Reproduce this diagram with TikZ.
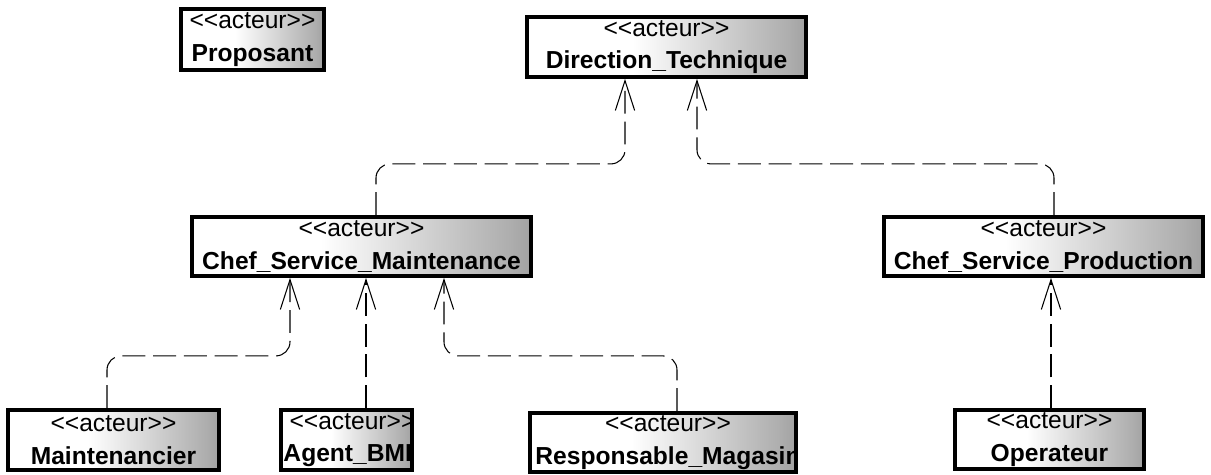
\documentclass[tikz,border=0pt]{standalone}
\usepackage{fontspec}
\newfontfamily\umlfont{Liberation Sans}
\usetikzlibrary{arrows.meta,calc}

\pgfdeclarehorizontalshading{acteurfill}{100bp}{color(0bp)=(white); color(44bp)=(white); color(72bp)=(black!32); color(100bp)=(black!75)}
\newcommand{\stereo}{\textless\textless acteur\textgreater\textgreater}

\tikzset{
  acteurtext/.style={align=center, inner sep=0pt, font=\umlfont\fontsize{14}{18.5}\selectfont},
  acteur/.style={acteurtext, draw, line width=2.2pt, shading=acteurfill},
  dep/.style={line width=0.6pt, dash pattern=on 13pt off 4.5pt, rounded corners=8pt,
              -{Straight Barb[length=17pt,width=11pt,line width=0.6pt]}}
}

\begin{document}
\begin{tikzpicture}[x=0.02cm,y=-0.02cm]
    \useasboundingbox (0,0) rectangle (1211,475);

    \node[acteur,minimum width=2.86cm,minimum height=1.22cm] (prop) at (252.5,39.5) {\stereo\\\textbf{Proposant}};
    \node[acteur,minimum width=5.58cm,minimum height=1.20cm] (dt) at (666.5,47) {\stereo\\\textbf{Direction\_Technique}};
    \node[acteur,minimum width=6.78cm,minimum height=1.18cm] (csm) at (361.5,246.5) {\stereo\\\textbf{Chef\_Service\_Maintenance}};
    \node[acteur,minimum width=6.38cm,minimum height=1.18cm] (csp) at (1043.5,246.5) {\stereo\\\textbf{Chef\_Service\_Production}};
    \node[acteur,minimum width=4.22cm,minimum height=1.20cm] (maint) at (113.5,440) {\stereo\\\textbf{Maintenancier}};
    \node[acteur,minimum width=2.62cm,minimum height=1.20cm] (bme) at (346.5,440) {};
    \node[acteur,minimum width=5.32cm,minimum height=1.18cm] (resp) at (663,442.5) {};
    \node[acteur,minimum width=3.78cm,minimum height=1.18cm] (op) at (1049.5,439.5) {\stereo\\\textbf{Operateur}};

    % textes coupes par le cadre
    \begin{scope}
        \clip ($(bme.south west)+(4,-4)$) rectangle ($(bme.north east)+(-4,4)$);
        \node[acteurtext] (bme_label) at ($(bme.center)+(6,0)$) {\stereo\\\textbf{Agent\_BME}};
    \end{scope}
    \begin{scope}
        \clip ($(resp.south west)+(4,-4)$) rectangle ($(resp.north east)+(-4,4)$);
        \node[acteurtext] (resp_label) at ($(resp.center)+(5,0)$) {\stereo\\\textbf{Responsable\_Magasin}};
    \end{scope}

    % vers Direction_Technique
    \draw[dep] ($(csm.north)+(14.5,0)$) |- ($(dt.south)+(-41.5,85)$) -- ($(dt.south)+(-41.5,0)$);
    \draw[dep] ($(csp.north)+(10.5,0)$) |- ($(dt.south)+(30.5,85)$) -- ($(dt.south)+(30.5,0)$);

    % vers Chef_Service_Maintenance
    \draw[dep] ($(maint.north)+(-6.5,0)$) |- ($(csm.south)+(-71.5,78)$) -- ($(csm.south)+(-71.5,0)$);
    \draw[dep] ($(bme.north)+(19.5,0)$) -- ($(csm.south)+(4.5,0)$);
    \draw[dep] ($(resp.north)+(14,0)$) |- ($(csm.south)+(82.5,78)$) -- ($(csm.south)+(82.5,0)$);

    % vers Chef_Service_Production
    \draw[dep] ($(op.north)+(1.5,0)$) -- ($(csp.south)+(7.5,0)$);
\end{tikzpicture}
\end{document}
